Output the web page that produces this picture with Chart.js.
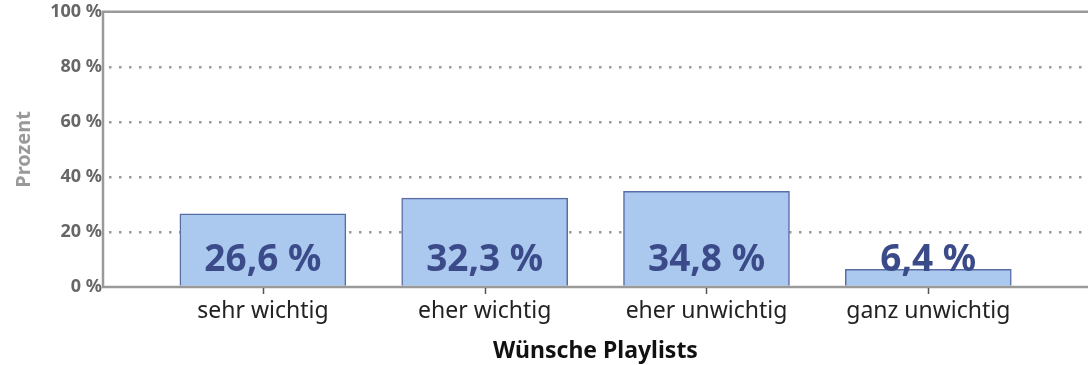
<!DOCTYPE html>
<html>
<head>
<meta charset="utf-8">
<script src="https://cdn.jsdelivr.net/npm/chart.js@4/dist/chart.umd.min.js"></script>
<style>
  html, body { margin: 0; padding: 0; background: #fff; }
  #wrap { width: 1088px; height: 365px; position: relative; }
</style>
</head>
<body>
<div id="wrap"><canvas id="c" width="1088" height="365"></canvas></div>
<script>
// Antworten zur Frage "Wünsche Playlists"
const categories = ['sehr wichtig', 'eher wichtig', 'eher unwichtig', 'ganz unwichtig'];
const percentages = [26.6, 32.3, 34.8, 6.4];
const yTicks = [0, 20, 40, 60, 80, 100];

const FONT = "'Noto Sans', 'Open Sans', sans-serif";
const fmt = v => v.toFixed(1).replace('.', ',') + ' %';

// Prozentwerte am Fuß jedes Balkens
const valueLabels = {
  id: 'valueLabels',
  afterDatasetsDraw(chart) {
    const ctx = chart.ctx;
    const meta = chart.getDatasetMeta(0);
    ctx.save();
    ctx.font = "bold 37px " + FONT;
    ctx.fillStyle = '#3b4b8a';
    ctx.textAlign = 'center';
    ctx.textBaseline = 'middle';
    meta.data.forEach((bar, i) => {
      ctx.fillText(fmt(percentages[i]), bar.x, bar.base - 25);
    });
    ctx.restore();
  }
};

// Rahmen oben und links, Grundlinie unten, Teilstriche unter den Kategorien
const frame = {
  id: 'frame',
  afterDatasetsDraw(chart) {
    const { ctx, chartArea: a } = chart;
    const xs = chart.scales.x;
    ctx.save();
    ctx.strokeStyle = '#9a9a9a';
    ctx.lineWidth = 2.5;
    ctx.beginPath();
    ctx.moveTo(a.right + 2, a.top);
    ctx.lineTo(a.left, a.top);
    ctx.lineTo(a.left, a.bottom);
    ctx.lineTo(a.right + 2, a.bottom);
    ctx.stroke();
    ctx.strokeStyle = '#555';
    ctx.lineWidth = 1.5;
    ctx.beginPath();
    categories.forEach((_, i) => {
      const px = Math.round(xs.getPixelForValue(i)) + 0.5;
      ctx.moveTo(px, a.bottom + 1);
      ctx.lineTo(px, a.bottom + 7);
    });
    ctx.stroke();
    ctx.restore();
  }
};

new Chart(document.getElementById('c'), {
  type: 'bar',
  data: {
    datasets: [{
      data: percentages.map((v, i) => ({ x: i, y: v })),
      backgroundColor: '#abc9ef',
      borderColor: '#5a6ca6',
      borderWidth: 1.5,
      borderSkipped: 'bottom',
      barThickness: 166
    }]
  },
  options: {
    responsive: false,
    animation: false,
    layout: { padding: { top: 11, right: 0, left: 0, bottom: 0 } },
    plugins: { legend: { display: false }, tooltip: { enabled: false } },
    scales: {
      x: {
        type: 'linear',
        offset: false,
        min: -0.7207,
        max: 3.72,
        afterBuildTicks(scale) {
          scale.ticks = categories.map((_, i) => ({ value: i }));
        },
        afterFit(scale) { scale.height = 78; },
        ticks: {
          autoSkip: false,
          maxRotation: 0,
          padding: 4,
          color: '#222',
          font: { family: FONT, size: 23 },
          callback: (v) => categories[v]
        },
        grid: {
          offset: false,
          drawOnChartArea: false,
          drawTicks: true,
          tickLength: 7,
          tickColor: 'rgba(0,0,0,0)'
        },
        border: { display: false },
        title: {
          display: true,
          text: 'Wünsche Playlists',
          color: '#111',
          font: { family: FONT, size: 23, weight: 'bold' },
          padding: { top: 0, bottom: 0 }
        }
      },
      y: {
        min: 0,
        max: 100,
        afterBuildTicks(scale) {
          scale.ticks = yTicks.map(v => ({ value: v }));
        },
        afterFit(scale) { scale.width = 103; },
        ticks: {
          color: '#666',
          padding: 1,
          font: { family: FONT, size: 18, weight: 'bold' },
          callback: v => v + ' %'
        },
        grid: {
          drawTicks: false,
          color: (c) => (c.tick && (c.tick.value === 0 || c.tick.value === 100)) ? 'rgba(0,0,0,0)' : '#9a9a9a',
          lineWidth: 2.5
        },
        border: { display: false, dash: [2.5, 7.5], dashOffset: -6 },
        title: {
          display: true,
          text: 'Prozent',
          color: '#999',
          font: { family: FONT, size: 20, weight: 'bold' },
          padding: { top: 12, bottom: 0 }
        }
      }
    }
  },
  plugins: [valueLabels, frame]
});
</script>
</body>
</html>
